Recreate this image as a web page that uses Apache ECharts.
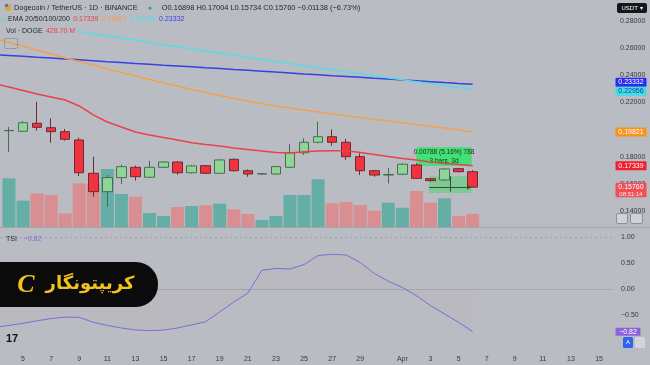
<!DOCTYPE html>
<html><head><meta charset="utf-8">
<script src="https://cdn.jsdelivr.net/npm/echarts@6/dist/echarts.min.js"></script>
<style>html,body{margin:0;padding:0;background:#b9bcc3;}#c{width:650px;height:365px;}</style>
</head><body><div id="c"></div>
<script>
// ---------- data ----------
const dates = ['03-04','03-05','03-06','03-07','03-08','03-09','03-10','03-11','03-12','03-13','03-14','03-15','03-16','03-17','03-18','03-19','03-20','03-21','03-22','03-23','03-24','03-25','03-26','03-27','03-28','03-29','03-30','03-31','04-01','04-02','04-03','04-04','04-05','04-06'];
const open  = [0.1991,0.1987,0.2046,0.2013,0.1984,0.1923,0.1678,0.1543,0.1646,0.1722,0.1649,0.1722,0.1761,0.1682,0.1734,0.1678,0.1781,0.1697,0.1673,0.1673,0.1722,0.1829,0.1906,0.1947,0.1906,0.1800,0.1697,0.1665,0.1671,0.1739,0.1638,0.1629,0.1712,0.16898];
const close = [0.1993,0.2050,0.2016,0.1984,0.1928,0.1682,0.1543,0.1646,0.1727,0.1653,0.1722,0.1761,0.1682,0.1732,0.1678,0.1776,0.1697,0.1673,0.1675,0.1727,0.1829,0.1906,0.1947,0.1906,0.1800,0.1697,0.1665,0.1669,0.1745,0.1641,0.1624,0.1710,0.16898,0.15760];
const high  = [0.2018,0.2062,0.2204,0.2082,0.2004,0.1940,0.1800,0.1665,0.1741,0.1735,0.1771,0.1768,0.1768,0.1739,0.1739,0.1781,0.1787,0.1707,0.1680,0.1732,0.1893,0.1935,0.2057,0.2001,0.1930,0.1825,0.1702,0.1717,0.1750,0.1751,0.1643,0.1716,0.1716,0.17004];
const low   = [0.1835,0.1982,0.1991,0.1903,0.1918,0.1658,0.1506,0.1432,0.1599,0.1624,0.1643,0.1717,0.1668,0.1676,0.1673,0.1673,0.1691,0.1653,0.1665,0.1669,0.1715,0.1812,0.1899,0.1881,0.1776,0.1665,0.1653,0.1604,0.1665,0.1636,0.1618,0.1621,0.1685,0.15734];
const volumeM = [1607,868,1112,1056,450,1442,1419,1914,1089,1000,462,363,660,693,716,769,584,429,231,363,1056,1056,1574,782,825,726,538,802,637,1188,802,947,363,428.7];

// indicator lines start one day earlier (03-03) so they reach the left edge
const lineStart = '03-03';
const ema20  = [0.2335,0.2313,0.2287,0.2261,0.2239,0.2217,0.2173,0.2107,0.2055,0.2018,0.1982,0.1960,0.1941,0.1923,0.1903,0.1890,0.1879,0.1864,0.1853,0.1842,0.1831,0.1827,0.1836,0.1842,0.1844,0.1843,0.1831,0.1816,0.1801,0.1787,0.1776,0.1761,0.1750,0.1743,0.17339];
const ema50  = [0.2665,0.2640,0.2614,0.2585,0.2555,0.2526,0.2500,0.2474,0.2445,0.2419,0.2393,0.2368,0.2342,0.2320,0.2294,0.2272,0.2250,0.2228,0.2210,0.2191,0.2173,0.2158,0.2143,0.2129,0.2114,0.2101,0.2088,0.2076,0.2063,0.2049,0.2037,0.2024,0.2011,0.1996,0.19821];
const ema100 = [0.2818,0.2801,0.2785,0.2769,0.2753,0.2737,0.2721,0.2704,0.2688,0.2672,0.2656,0.2640,0.2624,0.2608,0.2593,0.2577,0.2562,0.2546,0.2531,0.2515,0.2500,0.2485,0.2469,0.2454,0.2440,0.2425,0.2410,0.2396,0.2381,0.2366,0.2351,0.2337,0.2323,0.2309,0.22956];
const ema200 = [0.2549,0.2544,0.2538,0.2531,0.2525,0.2518,0.2512,0.2506,0.2499,0.2493,0.2486,0.2480,0.2473,0.2467,0.2461,0.2454,0.2448,0.2441,0.2435,0.2429,0.2422,0.2416,0.2409,0.2403,0.2396,0.2390,0.2384,0.2377,0.2371,0.2364,0.2358,0.2352,0.2345,0.2339,0.23332];
const tsi    = [-0.74,-0.70,-0.66,-0.61,-0.57,-0.54,-0.545,-0.64,-0.70,-0.75,-0.787,-0.80,-0.79,-0.75,-0.69,-0.63,-0.44,-0.25,-0.08,0.36,0.395,0.385,0.47,0.645,0.667,0.655,0.51,0.30,0.15,0.03,-0.13,-0.32,-0.48,-0.64,-0.82];

// axis ticks
const tickDates  = ['03-05','03-07','03-09','03-11','03-13','03-15','03-17','03-19','03-21','03-23','03-25','03-27','03-29','04-01','04-03','04-05','04-07','04-09','04-11','04-13','04-15'];
const priceTicks = [0.14,0.16,0.18,0.22,0.24,0.26,0.28];
const tsiTicks   = [1,0.5,0,-0.5];

// drawing tool (date & price range) annotation
const rangeText = ['0.00788 (5.16%) 788','3 bars, 3d'];
const rangeBox  = [[29.0,0.1869],[32.93,0.1731]];
const rangeArea = [[29.9,0.1656],[32.93,0.1533]];
const countdown = '08:51:14';

// ---------- helpers ----------
const BG = '#b9bcc3';
const FONT = '"Liberation Sans", Arial, sans-serif';
const TXT = '#353840';
function dayIndex(s){const [m,d]=s.split('-').map(Number);return Math.round((Date.UTC(2025,m-1,d)-Date.UTC(2025,2,4))/864e5);}
function dayLabel(i){const dt=new Date(Date.UTC(2025,2,4+Math.round(i)));return dt.getUTCDate()===1?['Jan','Feb','Mar','Apr','May','Jun'][dt.getUTCMonth()]:String(dt.getUTCDate());}
const lineDates = [lineStart].concat(dates);
const fmt = (v,d) => (v<0?'−':'')+Math.abs(v).toFixed(d);

const chart = echarts.init(document.getElementById('c'), null, {renderer:'canvas', width:650, height:365});

const xBase = {type:'value', min:-0.64, max:42.92, axisLine:{show:false}, axisTick:{show:false}, splitLine:{show:false}, axisLabel:{show:false}};
const yBase = {type:'value', position:'right', axisLine:{show:false}, axisTick:{show:false}, splitLine:{show:false}};

const lineSeries = (arr,color,w) => ({type:'line', xAxisIndex:0, yAxisIndex:0, data: lineDates.map((d,i)=>[dayIndex(d),arr[i]]), symbol:'none', lineStyle:{color, width:w}, z:3, silent:true});

const option = {
  backgroundColor: BG,
  animation: false,
  grid: [
    {left:0, right:38, top:8, bottom:138},
    {left:0, right:38, top:127, bottom:138},
    {left:0, right:38, top:228, bottom:15}
  ],
  xAxis: [
    Object.assign({}, xBase, {gridIndex:0}),
    Object.assign({}, xBase, {gridIndex:1}),
    Object.assign({}, xBase, {gridIndex:2,
      axisLine:{show:true, lineStyle:{color:'#a3a6ad', width:1}},
      axisLabel:{show:true, customValues: tickDates.map(dayIndex), formatter: v=>dayLabel(v), fontSize:7, color:TXT, margin:6, fontFamily:FONT}})
  ],
  yAxis: [
    Object.assign({}, yBase, {gridIndex:0, min:0.12831, max:0.28934,
      axisLabel:{customValues: priceTicks, formatter: v=>v.toFixed(5), fontSize:7, color:TXT, margin:8, fontFamily:FONT}}),
    {gridIndex:1, type:'value', min:0, max:3300, show:false},
    Object.assign({}, yBase, {gridIndex:2, min:-1.173, max:1.173,
      axisLabel:{customValues: tsiTicks, formatter: v=>fmt(v,2), fontSize:7, color:TXT, margin:9, fontFamily:FONT}})
  ],
  series: [
    {type:'bar', xAxisIndex:1, yAxisIndex:1, barWidth:13, z:1, silent:true,
      data: dates.map((d,i)=>({value:[dayIndex(d), volumeM[i]], itemStyle:{color: close[i]>=open[i] ? '#64aea6' : '#d98f91'}}))},
    {type:'candlestick', xAxisIndex:0, yAxisIndex:0, barWidth:10, z:2, silent:true,
      encode:{x:0, y:[1,2,3,4]},
      data: dates.map((d,i)=>[dayIndex(d), open[i], close[i], low[i], high[i]]),
      itemStyle:{color:'#8dd697', color0:'#f2323f', borderColor:'#4c6a52', borderColor0:'#6e2a2e', borderWidth:1},
      markArea:{silent:true, data:[
        [{coord:rangeBox[0], itemStyle:{color:'rgba(58,226,112,0.92)'},
          label:{show:true, position:'inside', formatter: rangeText.join('\n'), fontSize:6.5, lineHeight:9, color:'#17301f', fontFamily:FONT}},
         {coord:rangeBox[1]}],
        [{coord:rangeArea[0], itemStyle:{color:'rgba(70,214,104,0.5)'}, label:{show:false}}, {coord:rangeArea[1]}]
      ]},
      markLine:{silent:true, symbol:['none','none'], label:{show:false}, lineStyle:{color:'#2b5236', width:1, type:'solid'}, data:[
        [{coord:[rangeArea[0][0], 0.1575]},{coord:[rangeArea[1][0]-0.05, 0.1575], symbol:'arrow', symbolSize:4}],
        [{coord:[31.4, rangeArea[0][1]]},{coord:[31.4, rangeArea[1][1]+0.001]}]
      ]}
    },
    lineSeries(ema200,'#3a3fe0',1.5),
    lineSeries(ema100,'#56dde6',1.5),
    lineSeries(ema50,'#f2a04e',1.5),
    lineSeries(ema20,'#e8424b',1.5),
    {type:'line', xAxisIndex:2, yAxisIndex:2, symbol:'none', silent:true,
      data: lineDates.map((d,i)=>[dayIndex(d), tsi[i]]),
      lineStyle:{color:'#786ed8', width:1},
      areaStyle:{color:'rgba(236,128,146,0.07)'},
      markLine:{silent:true, symbol:'none', label:{show:false}, lineStyle:{color:'rgba(105,108,125,0.35)', type:[2,3], width:1}, data:[{yAxis:1}]}}
  ]
};
chart.setOption(option);

// ---------- overlays: legends, price-scale labels, watermark ----------
const L = close.length-1;
const chg = close[L]-close[L-1];
const pct = chg/close[L-1]*100;
const py = v => chart.convertToPixel({yAxisIndex:0}, v);
const ty = v => chart.convertToPixel({yAxisIndex:2}, v);

const g = [];
g.push({type:'line', shape:{x1:0,y1:227.5,x2:650,y2:227.5}, style:{stroke:'#a2a5ac', lineWidth:1}, z:50, silent:true});
// symbol icon
g.push({type:'rect', shape:{x:5,y:4,width:6,height:7,r:1}, style:{fill:'#d9a93a'}, z:100});
g.push({type:'rect', shape:{x:5,y:4,width:3,height:3}, style:{fill:'#3a7bd5'}, z:101});
g.push({type:'text', x:14, y:8, z:100, style:{
  text:'{t|Dogecoin / TetherUS · 1D · BINANCE}   {g|●}   {t|O'+open[L].toFixed(5)+' H'+high[L].toFixed(5)+' L'+low[L].toFixed(5)+' C'+close[L].toFixed(5)+' '+fmt(chg,5)+' ('+fmt(pct,2)+'%)}',
  rich:{t:{fontSize:7.4, fill:'#1f222b', fontFamily:FONT}, g:{fontSize:7, fill:'#1eae6c', fontFamily:FONT}},
  verticalAlign:'middle', align:'left'}});
g.push({type:'text', x:6, y:19.5, z:100, style:{
  text:'{t|EMA 20/50/100/200} {r|'+ema20[ema20.length-1].toFixed(5)+'} {o|'+ema50[ema50.length-1].toFixed(5)+'} {c|'+ema100[ema100.length-1].toFixed(5)+'} {b|'+ema200[ema200.length-1].toFixed(5)+'}',
  rich:{t:{fontSize:7, fill:'#1f222b', fontFamily:FONT}, r:{fontSize:7, fill:'#e8424b', fontFamily:FONT}, o:{fontSize:7, fill:'#f2a04e', fontFamily:FONT}, c:{fontSize:7, fill:'#56dde6', fontFamily:FONT}, b:{fontSize:7, fill:'#3a3fe0', fontFamily:FONT}},
  backgroundColor:BG, padding:[2,2], verticalAlign:'middle', align:'left'}});
g.push({type:'text', x:4, y:31, z:100, style:{
  text:'{t|Vol · DOGE} {r|'+volumeM[L].toFixed(2)+' M}',
  rich:{t:{fontSize:7, fill:'#1f222b', fontFamily:FONT}, r:{fontSize:7, fill:'#e8424b', fontFamily:FONT}},
  backgroundColor:BG, padding:[2,2], verticalAlign:'middle', align:'left'}});
g.push({type:'rect', shape:{x:4.5,y:38.5,width:13,height:10,r:1}, style:{fill:'none', stroke:'#75787f', lineWidth:1, lineDash:[1,1]}, z:100});
g.push({type:'text', x:6, y:239, z:100, style:{
  text:'{t|TSI}  {p|'+fmt(tsi[tsi.length-1],2)+'}',
  rich:{t:{fontSize:7, fill:'#1f222b', fontFamily:FONT}, p:{fontSize:7, fill:'#786ed8', fontFamily:FONT}},
  verticalAlign:'middle', align:'left'}});

// USDT selector
g.push({type:'rect', shape:{x:617,y:3,width:30,height:10,r:2}, style:{fill:'#15161a'}, z:100});
g.push({type:'text', x:632, y:8, z:101, style:{text:'USDT ▾', fontSize:6, fill:'#ffffff', fontFamily:FONT, align:'center', verticalAlign:'middle'}});

// price-scale value boxes
let boxes = [
  {v: ema200[ema200.length-1], bg:'#2b2cef', fg:'#ffffff'},
  {v: ema100[ema100.length-1], bg:'#40dde6', fg:'#1c3a8c'},
  {v: ema50[ema50.length-1],  bg:'#f7931e', fg:'#ffffff'},
  {v: ema20[ema20.length-1],  bg:'#f0202e', fg:'#ffffff'}
];
boxes.forEach(b=>b.y=py(b.v));
boxes.sort((a,b)=>a.y-b.y);
const BH = 9;
for (let k=1;k<boxes.length;k++){const a=boxes[k-1], b=boxes[k]; if (b.y-a.y<BH){const m=(a.y+b.y)/2; a.y=m-BH/2; b.y=m+BH/2;}}
boxes.forEach(b=>{
  g.push({type:'rect', shape:{x:615.5,y:b.y-BH/2,width:31,height:BH,r:1}, style:{fill:b.bg}, z:110});
  g.push({type:'text', x:631, y:b.y, z:111, style:{text:b.v.toFixed(5), fontSize:7, fill:b.fg, fontFamily:FONT, align:'center', verticalAlign:'middle'}});
});
const ly = py(close[L]);
g.push({type:'rect', shape:{x:615.5,y:ly-4.5,width:31,height:14.5,r:1}, style:{fill:'#ee4f59'}, z:110});
g.push({type:'text', x:631, y:ly, z:111, style:{text:close[L].toFixed(5), fontSize:7, fill:'#ffffff', fontFamily:FONT, align:'center', verticalAlign:'middle'}});
g.push({type:'text', x:631, y:ly+7.5, z:111, style:{text:countdown, fontSize:6, fill:'#ffe9ea', fontFamily:FONT, align:'center', verticalAlign:'middle'}});
// scale buttons
g.push({type:'rect', shape:{x:616.5,y:213.5,width:11,height:10,r:1.5}, style:{fill:'rgba(225,227,232,0.55)', stroke:'#8d9096', lineWidth:1}, z:110});
g.push({type:'rect', shape:{x:630.5,y:213.5,width:12,height:10,r:1.5}, style:{fill:'rgba(225,227,232,0.55)', stroke:'#8d9096', lineWidth:1}, z:110});
// TSI value box
const tyy = ty(tsi[tsi.length-1]);
g.push({type:'rect', shape:{x:615.5,y:tyy-4,width:25,height:8,r:1}, style:{fill:'#8b63d9'}, z:110});
g.push({type:'text', x:628, y:tyy, z:111, style:{text:fmt(tsi[tsi.length-1],2), fontSize:7, fill:'#ffffff', fontFamily:FONT, align:'center', verticalAlign:'middle'}});
// auto button
g.push({type:'rect', shape:{x:623,y:337,width:10,height:11,r:1.5}, style:{fill:'#2e63f2'}, z:110});
g.push({type:'text', x:628, y:342.5, z:111, style:{text:'A', fontSize:6, fill:'#ffffff', fontFamily:FONT, align:'center', verticalAlign:'middle'}});
g.push({type:'rect', shape:{x:635,y:337,width:10,height:11,r:1.5}, style:{fill:'#d3d5da'}, z:110});
// TradingView mark
g.push({type:'text', x:6, y:339, z:100, style:{text:'17', fontSize:11, fontWeight:'bold', fill:'#111216', fontFamily:FONT, verticalAlign:'middle', align:'left'}});
// watermark pill
g.push({type:'rect', shape:{x:-30,y:262,width:188,height:45,r:22}, style:{fill:'#0b0b0c'}, z:120});
g.push({type:'text', x:90, y:284, z:121, style:{text:'کریپتونگار', fontSize:18, fontWeight:'bold', fill:'#f3c21f', fontFamily:'"DejaVu Sans", sans-serif', align:'center', verticalAlign:'middle'}});
g.push({type:'text', x:26, y:285, z:121, style:{text:'C', fontSize:26, fontWeight:'bold', fontStyle:'italic', fill:'#f3c21f', fontFamily:'"Liberation Serif", serif', align:'center', verticalAlign:'middle'}});

chart.setOption({graphic:{elements:g}});
</script>
</body></html>
